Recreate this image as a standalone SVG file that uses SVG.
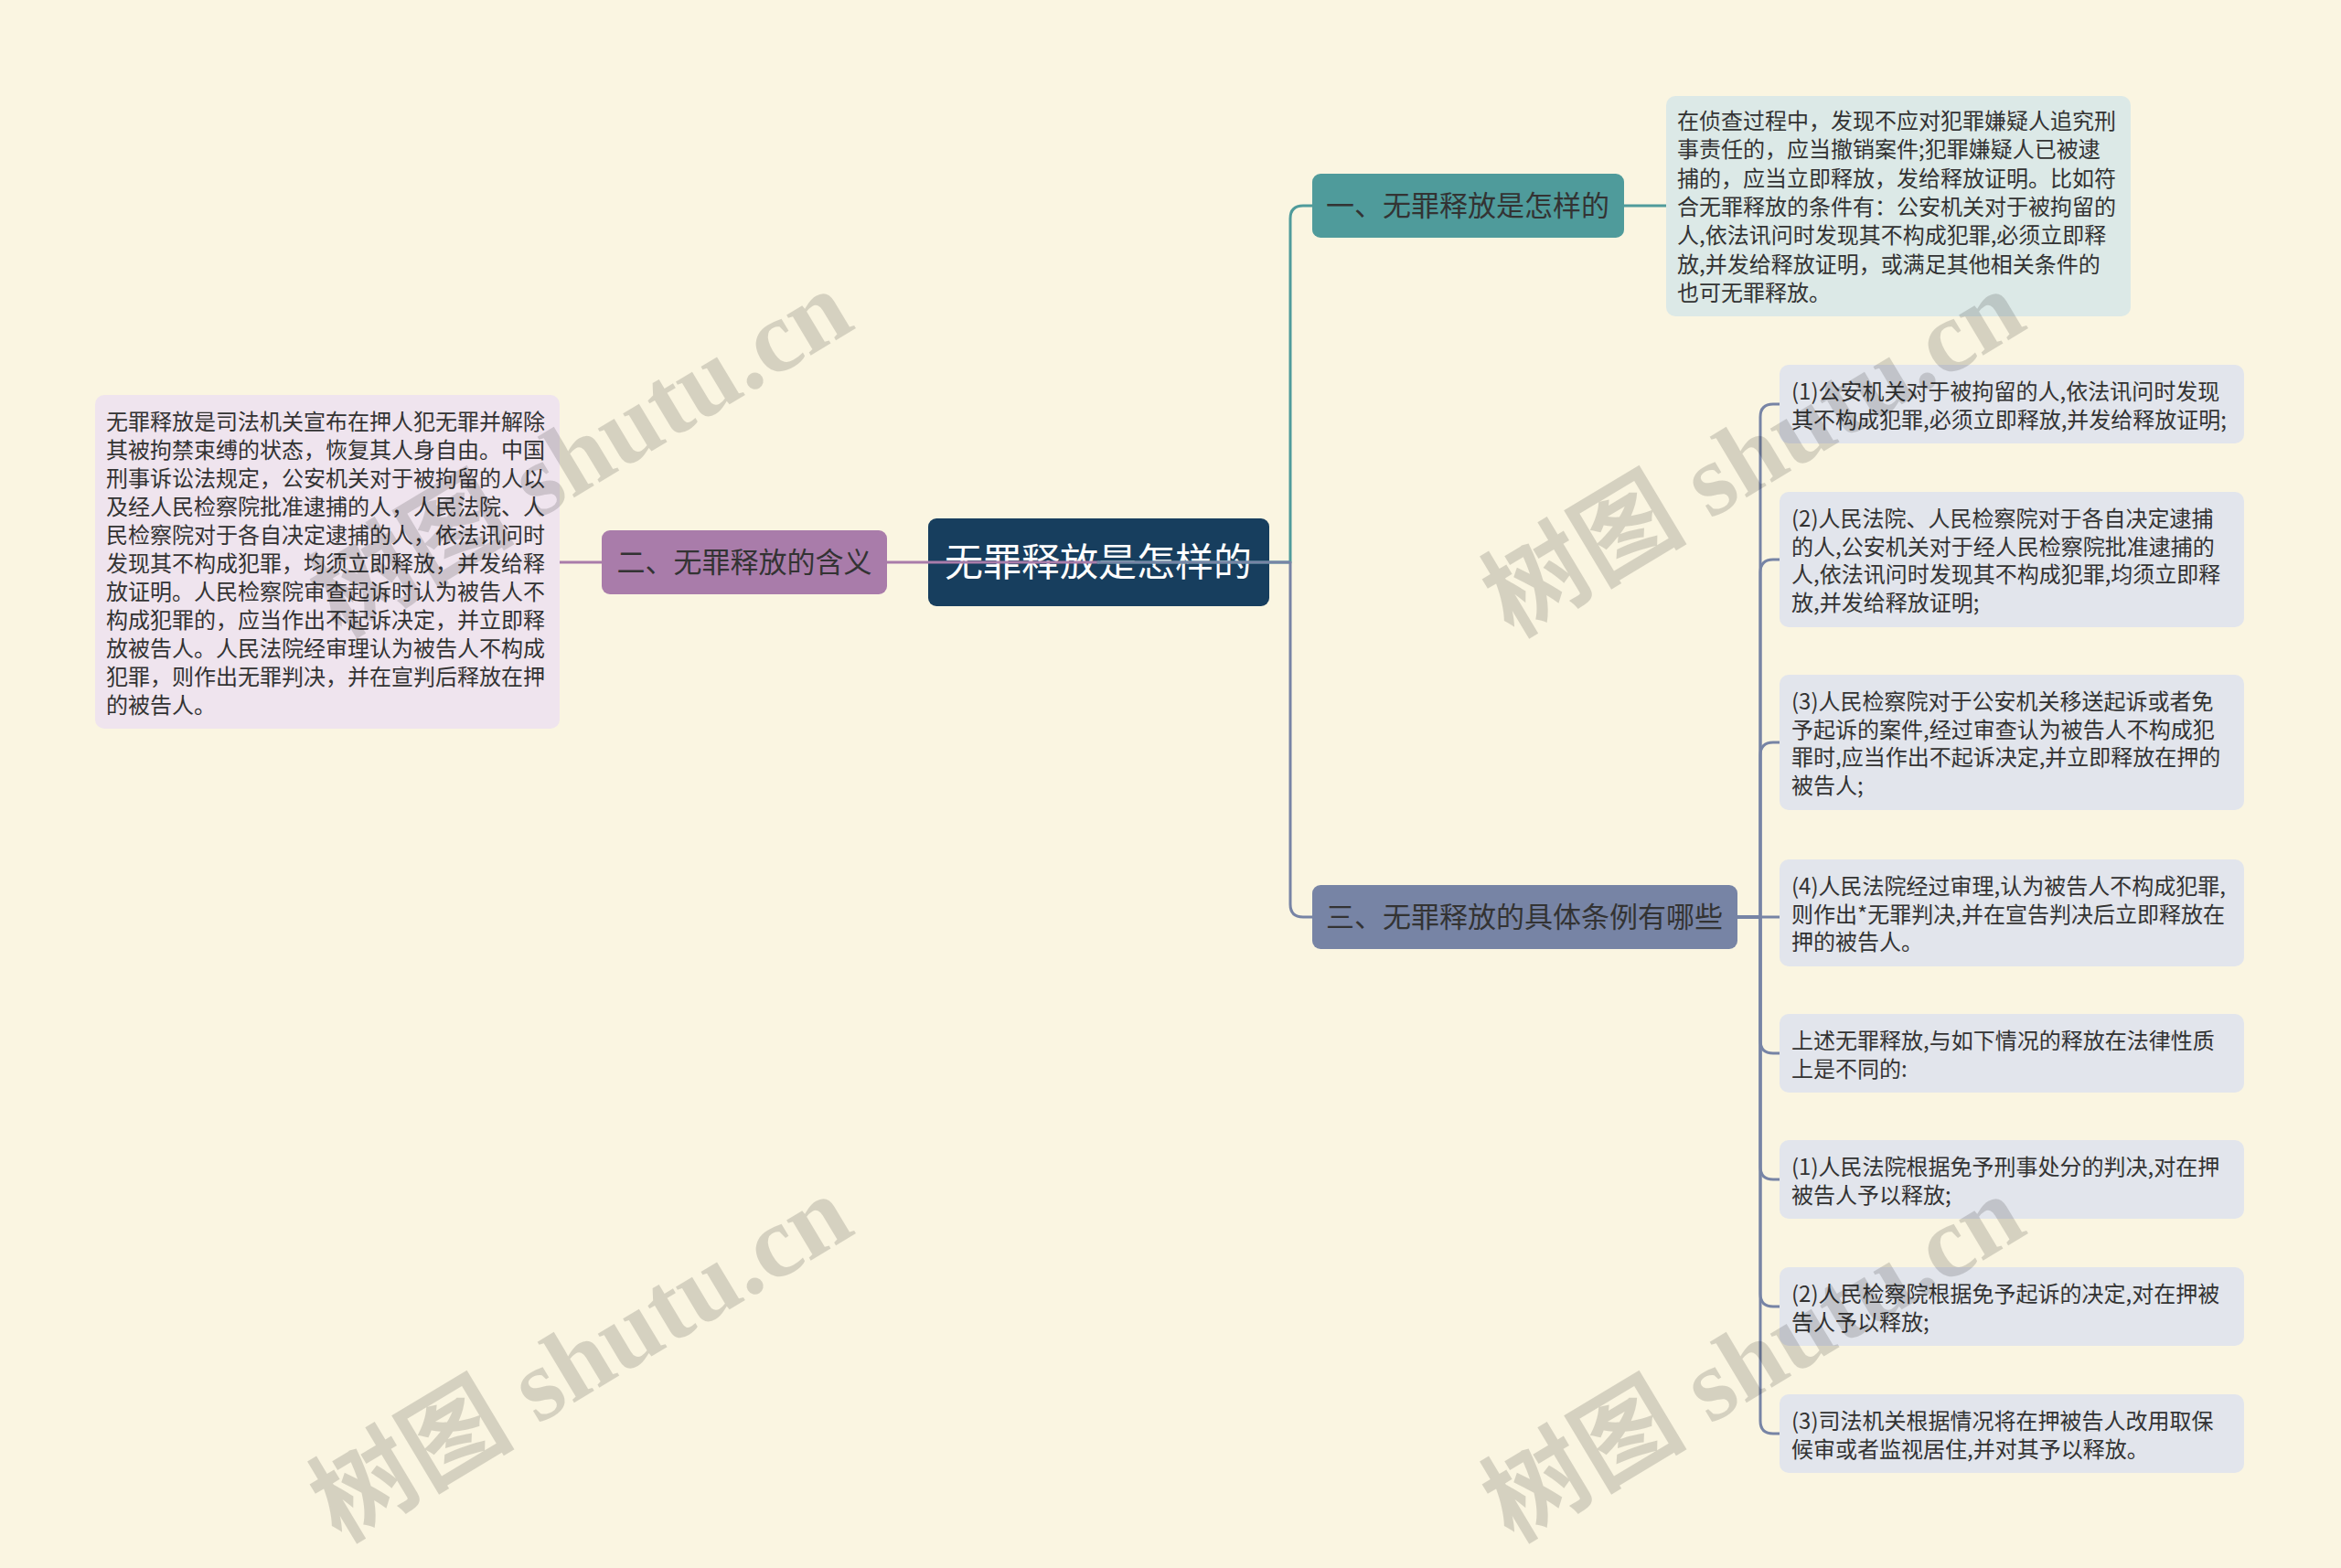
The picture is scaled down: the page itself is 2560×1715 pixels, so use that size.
<svg xmlns="http://www.w3.org/2000/svg" width="2560" height="1715" viewBox="0 0 2560 1715">
<style>
.t{font-family:"Noto Sans CJK SC","Noto Sans",sans-serif;fill:#333333}
.small{font-size:24px}
.mid{font-size:31px;text-anchor:middle}
.root{font-family:"Noto Sans CJK SC","Noto Sans",sans-serif;font-size:42px;fill:#ffffff;text-anchor:middle}
.c{fill:none;stroke-width:3;stroke-linecap:round;stroke-linejoin:round}
.wm{font-family:"Liberation Serif","Noto Sans CJK SC",serif;font-weight:bold;font-size:112px;fill:#000000;opacity:0.14}
</style>
<rect x="0" y="0" width="2560" height="1715" fill="#faf5e1"/>

<g id="root">
<rect x="1015" y="567" width="373" height="96" rx="9" fill="#173e5e"/>
<text class="root" x="1201" y="630">无罪释放是怎样的</text>
</g>

<g id="connectors">
<path class="c" stroke="#a97caa" d="M1201,615 H970"/>
<path class="c" stroke="#a97caa" d="M658,615 H612"/>
<path class="c" stroke="#4f9b9b" d="M1201,615 H1411 V239 Q1411,225 1425,225 H1435"/>
<path class="c" stroke="#4f9b9b" d="M1776,225 H1822"/>
<path class="c" stroke="#7784a5" d="M1201,615 H1411 V989 Q1411,1003 1425,1003 H1435"/>
<g stroke="#7784a5">
<path class="c" d="M1900,1003 H1925 V456 Q1925,442 1939,442 H1946"/>
<path class="c" d="M1900,1003 H1925 V626 Q1925,612 1939,612 H1946"/>
<path class="c" d="M1900,1003 H1925 V826 Q1925,812 1939,812 H1946"/>
<path class="c" d="M1900,1003 H1946"/>
<path class="c" d="M1900,1003 H1925 V1138 Q1925,1152 1939,1152 H1946"/>
<path class="c" d="M1900,1003 H1925 V1276 Q1925,1290 1939,1290 H1946"/>
<path class="c" d="M1900,1003 H1925 V1415 Q1925,1429 1939,1429 H1946"/>
<path class="c" d="M1900,1003 H1925 V1554 Q1925,1568 1939,1568 H1946"/>
</g>
</g>

<g id="n2">
<rect x="658" y="580" width="312" height="70" rx="9" fill="#a97caa"/>
<text class="t mid" x="814" y="626">二、无罪释放的含义</text>
</g>
<g id="n2a">
<rect x="104" y="432" width="508" height="365" rx="10" fill="#efe4ee"/>
<text class="t small">
<tspan x="116" y="470">无罪释放是司法机关宣布在押人犯无罪并解除</tspan>
<tspan x="116" y="501">其被拘禁束缚的状态，恢复其人身自由。中国</tspan>
<tspan x="116" y="532">刑事诉讼法规定，公安机关对于被拘留的人以</tspan>
<tspan x="116" y="563">及经人民检察院批准逮捕的人，人民法院、人</tspan>
<tspan x="116" y="594">民检察院对于各自决定逮捕的人，依法讯问时</tspan>
<tspan x="116" y="625">发现其不构成犯罪，均须立即释放，并发给释</tspan>
<tspan x="116" y="656">放证明。人民检察院审查起诉时认为被告人不</tspan>
<tspan x="116" y="687">构成犯罪的，应当作出不起诉决定，并立即释</tspan>
<tspan x="116" y="718">放被告人。人民法院经审理认为被告人不构成</tspan>
<tspan x="116" y="749">犯罪，则作出无罪判决，并在宣判后释放在押</tspan>
<tspan x="116" y="780">的被告人。</tspan>
</text>
</g>

<g id="n1">
<rect x="1435" y="190" width="341" height="70" rx="9" fill="#4f9b9b"/>
<text class="t mid" x="1605" y="236">一、无罪释放是怎样的</text>
</g>
<g id="n1a">
<rect x="1822" y="105" width="508" height="241" rx="10" fill="#dce9e7"/>
<text class="t small">
<tspan x="1834" y="141">在侦查过程中，发现不应对犯罪嫌疑人追究刑</tspan>
<tspan x="1834" y="172">事责任的，应当撤销案件;犯罪嫌疑人已被逮</tspan>
<tspan x="1834" y="204">捕的，应当立即释放，发给释放证明。比如符</tspan>
<tspan x="1834" y="235">合无罪释放的条件有：公安机关对于被拘留的</tspan>
<tspan x="1834" y="266">人,依法讯问时发现其不构成犯罪,必须立即释</tspan>
<tspan x="1834" y="298">放,并发给释放证明，或满足其他相关条件的</tspan>
<tspan x="1834" y="329">也可无罪释放。</tspan>
</text>
</g>

<g id="n3">
<rect x="1435" y="968" width="465" height="70" rx="9" fill="#7784a5"/>
<text class="t mid" x="1667" y="1014">三、无罪释放的具体条例有哪些</text>
</g>

<g id="c1">
<rect x="1946" y="399" width="508" height="86" rx="10" fill="#e2e5ec"/>
<text class="t small"><tspan x="1959" y="437">(1)公安机关对于被拘留的人,依法讯问时发现</tspan><tspan x="1959" y="467.5">其不构成犯罪,必须立即释放,并发给释放证明;</tspan></text>
</g>
<g id="c2">
<rect x="1946" y="538" width="508" height="148" rx="10" fill="#e2e5ec"/>
<text class="t small"><tspan x="1959" y="576">(2)人民法院、人民检察院对于各自决定逮捕</tspan><tspan x="1959" y="606.5">的人,公安机关对于经人民检察院批准逮捕的</tspan><tspan x="1959" y="637">人,依法讯问时发现其不构成犯罪,均须立即释</tspan><tspan x="1959" y="667.5">放,并发给释放证明;</tspan></text>
</g>
<g id="c3">
<rect x="1946" y="738" width="508" height="148" rx="10" fill="#e2e5ec"/>
<text class="t small"><tspan x="1959" y="776">(3)人民检察院对于公安机关移送起诉或者免</tspan><tspan x="1959" y="806.5">予起诉的案件,经过审查认为被告人不构成犯</tspan><tspan x="1959" y="837">罪时,应当作出不起诉决定,并立即释放在押的</tspan><tspan x="1959" y="867.5">被告人;</tspan></text>
</g>
<g id="c4">
<rect x="1946" y="940" width="508" height="117" rx="10" fill="#e2e5ec"/>
<text class="t small"><tspan x="1959" y="978">(4)人民法院经过审理,认为被告人不构成犯罪,</tspan><tspan x="1959" y="1008.5">则作出*无罪判决,并在宣告判决后立即释放在</tspan><tspan x="1959" y="1039">押的被告人。</tspan></text>
</g>
<g id="c5">
<rect x="1946" y="1109" width="508" height="86" rx="10" fill="#e2e5ec"/>
<text class="t small"><tspan x="1959" y="1147">上述无罪释放,与如下情况的释放在法律性质</tspan><tspan x="1959" y="1177.5">上是不同的:</tspan></text>
</g>
<g id="c6">
<rect x="1946" y="1247" width="508" height="86" rx="10" fill="#e2e5ec"/>
<text class="t small"><tspan x="1959" y="1285">(1)人民法院根据免予刑事处分的判决,对在押</tspan><tspan x="1959" y="1315.5">被告人予以释放;</tspan></text>
</g>
<g id="c7">
<rect x="1946" y="1386" width="508" height="86" rx="10" fill="#e2e5ec"/>
<text class="t small"><tspan x="1959" y="1424">(2)人民检察院根据免予起诉的决定,对在押被</tspan><tspan x="1959" y="1454.5">告人予以释放;</tspan></text>
</g>
<g id="c8">
<rect x="1946" y="1525" width="508" height="86" rx="10" fill="#e2e5ec"/>
<text class="t small"><tspan x="1959" y="1563">(3)司法机关根据情况将在押被告人改用取保</tspan><tspan x="1959" y="1593.5">候审或者监视居住,并对其予以释放。</tspan></text>
</g>

<g id="watermarks">
<text class="wm" transform="translate(372,698) rotate(-31)">树图 shutu.cn</text>
<text class="wm" transform="translate(1654,698) rotate(-31)">树图 shutu.cn</text>
<text class="wm" transform="translate(372,1688) rotate(-31)">树图 shutu.cn</text>
<text class="wm" transform="translate(1654,1688) rotate(-31)">树图 shutu.cn</text>
</g>
</svg>
